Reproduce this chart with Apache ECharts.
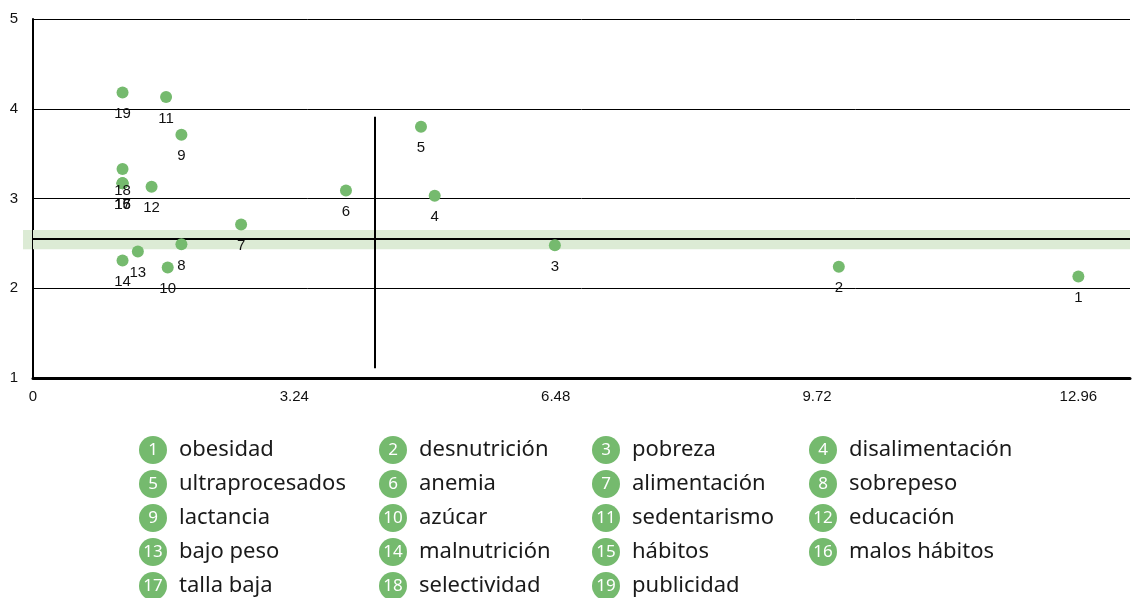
<!DOCTYPE html>
<html>
<head>
<meta charset="utf-8">
<script src="https://cdn.jsdelivr.net/npm/echarts@6/dist/echarts.min.js"></script>
<style>
  html, body { margin: 0; padding: 0; background: #fff; }
  #chart { width: 1133px; height: 598px; }
</style>
</head>
<body>
<div id="chart"></div>
<script>
// terms, numbered 1..19 in this order
var names = ['obesidad', 'desnutrición', 'pobreza', 'disalimentación', 'ultraprocesados',
  'anemia', 'alimentación', 'sobrepeso', 'lactancia', 'azúcar', 'sedentarismo', 'educación',
  'bajo peso', 'malnutrición', 'hábitos', 'malos hábitos', 'talla baja', 'selectividad', 'publicidad'];
var xVals = [12.96, 9.99, 6.47, 4.98, 4.81, 3.88, 2.58, 1.84, 1.84, 1.67, 1.65, 1.47, 1.30, 1.11, 1.11, 1.11, 1.11, 1.11, 1.11];
var yVals = [2.13, 2.24, 2.48, 3.03, 3.80, 3.09, 2.71, 2.49, 3.71, 2.23, 4.13, 3.13, 2.41, 2.31, 3.17, 3.17, 3.17, 3.33, 4.18];

var xTicks = [0, 3.24, 6.48, 9.72, 12.96];
var meanY = 2.55;
var bandY = [2.434, 2.649];
var splitX = 4.24;
var splitYRange = [1.11, 3.91];

// legend columns (by number)
var legendCols = [[1, 5, 9, 13, 17], [2, 6, 10, 14, 18], [3, 7, 11, 15, 19], [4, 8, 12, 16]];
var legendLeft = [134, 374, 587, 804];

var green = '#75ba6e';

var chart = echarts.init(document.getElementById('chart'));

var series = names.map(function (n, i) {
  return {
    type: 'scatter',
    name: n,
    data: [[xVals[i], yVals[i]]],
    symbolSize: 12,
    itemStyle: { color: green, opacity: 1 },
    z: 5,
    label: {
      show: true,
      position: 'bottom',
      distance: 8,
      formatter: String(i + 1),
      color: '#111',
      fontSize: 15,
      fontFamily: 'Liberation Sans, Arial, sans-serif'
    }
  };
});

series[0].markArea = {
  silent: true,
  itemStyle: { color: '#dcebd5' },
  data: [[{ yAxis: bandY[0] }, { yAxis: bandY[1] }]]
};
series[0].markLine = {
  silent: true,
  symbol: 'none',
  label: { show: false },
  lineStyle: { color: '#000', width: 2, type: 'solid' },
  data: [
    { yAxis: meanY },
    [{ coord: [splitX, splitYRange[0]] }, { coord: [splitX, splitYRange[1]] }]
  ]
};

// one narrow horizontal legend per column, so every item wraps onto its own row
var legends = legendCols.map(function (col, c) {
  return {
    orient: 'horizontal',
    left: legendLeft[c],
    top: 436,
    width: 10,
    padding: 0,
    itemGap: 6,
    itemWidth: 0,
    itemHeight: 28,
    icon: 'none',
    selectedMode: false,
    data: col.map(function (k) { return names[k - 1]; }),
    formatter: function (name) {
      return '{b|' + (names.indexOf(name) + 1) + '}{t|' + name + '}';
    },
    textStyle: {
      rich: {
        b: {
          width: 28, height: 28, lineHeight: 28, borderRadius: 14,
          backgroundColor: green, color: '#fff', align: 'center',
          fontSize: 17, fontFamily: 'Noto Sans, sans-serif'
        },
        t: {
          fontSize: 22, lineHeight: 28, color: '#1a1a1a',
          padding: [0, 0, 0, 12], fontFamily: 'Noto Sans, sans-serif'
        }
      }
    }
  };
});

var option = {
  backgroundColor: '#fff',
  animation: false,
  grid: { left: 33, right: 0, top: 19, bottom: 220 },
  xAxis: {
    type: 'value',
    min: 0,
    max: 13.6,
    interval: 3.24,
    splitLine: { show: false },
    axisTick: { show: false },
    axisLine: { show: true, lineStyle: { color: '#000', width: 3 } },
    axisLabel: {
      margin: 11,
      color: '#111',
      fontSize: 15,
      fontFamily: 'Liberation Sans Narrow, Liberation Sans, Arial, sans-serif',
      formatter: function (v) {
        var hit = xTicks.filter(function (t) { return Math.abs(t - v) < 1e-6; });
        return hit.length ? String(hit[0]) : '';
      }
    }
  },
  yAxis: {
    type: 'value',
    min: 1,
    max: 5,
    interval: 1,
    axisTick: { show: false },
    axisLine: { show: true, lineStyle: { color: '#000', width: 2 } },
    splitLine: { show: true, lineStyle: { color: '#000', width: 1 } },
    axisLabel: {
      margin: 15,
      color: '#111',
      fontSize: 15,
      fontFamily: 'Liberation Sans, Arial, sans-serif'
    }
  },
  legend: legends,
  series: series
};

chart.setOption(option);

// small stub of the band sticking out left of the y axis
var pTop = chart.convertToPixel({ gridIndex: 0 }, [0, bandY[1]]);
var pBot = chart.convertToPixel({ gridIndex: 0 }, [0, bandY[0]]);
chart.setOption({
  graphic: [{
    type: 'rect',
    silent: true,
    z: -1,
    shape: { x: pTop[0] - 10, y: pTop[1], width: 10, height: pBot[1] - pTop[1] },
    style: { fill: '#dcebd5' }
  }]
});
</script>
</body>
</html>
